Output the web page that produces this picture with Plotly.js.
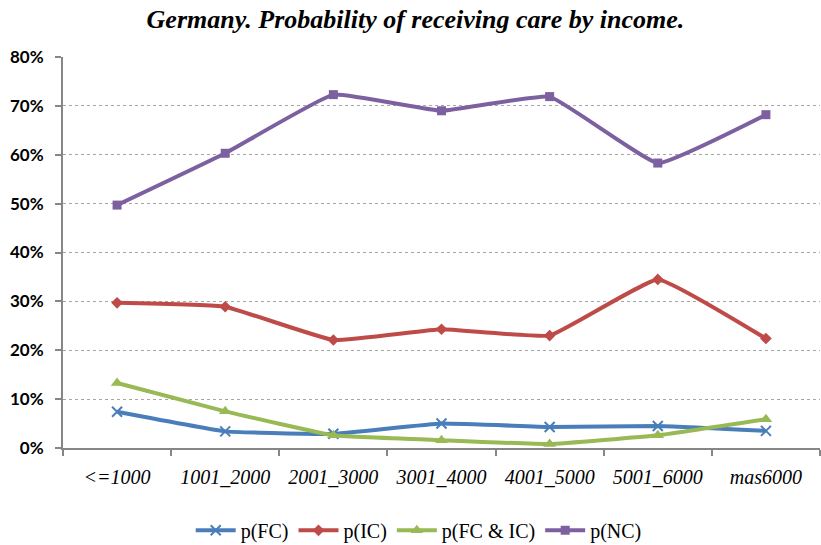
<!DOCTYPE html>
<html>
<head>
<meta charset="utf-8">
<script src="https://cdn.plot.ly/plotly-3.0.1.min.js"></script>
<style>html,body{margin:0;padding:0;background:#fff;}#chart{width:821px;height:545px;}</style>
</head>
<body>
<div id="chart"></div>
<script>
const categories = ["<=1000", "1001_2000", "2001_3000", "3001_4000", "4001_5000", "5001_6000", "mas6000"];
const pFC   = [0.074, 0.034, 0.029, 0.050, 0.043, 0.045, 0.035];
const pIC   = [0.297, 0.289, 0.221, 0.243, 0.230, 0.345, 0.224];
const pFCIC = [0.133, 0.075, 0.026, 0.016, 0.008, 0.026, 0.059];
const pNC   = [0.497, 0.603, 0.723, 0.690, 0.719, 0.583, 0.682];
const yTickVals = [0, 0.1, 0.2, 0.3, 0.4, 0.5, 0.6, 0.7, 0.8];
const yTickText = ["0%", "10%", "20%", "30%", "40%", "50%", "60%", "70%", "80%"];

const seriesNames = ["p(FC)", "p(IC)", "p(FC & IC)", "p(NC)"];
const seriesData = [pFC, pIC, pFCIC, pNC];
const colors = ["#4a7ebb", "#be4b48", "#98b954", "#7d60a0"];
const symbols = ["x-thin-open", "diamond", "triangle-up", "square"];
const sizes = [10, 9, 11, 9];

const traces = seriesData.map((d, i) => ({
  type: "scatter",
  mode: "lines+markers",
  x: categories,
  y: d,
  name: seriesNames[i],
  line: {color: colors[i], width: 4, shape: "spline", smoothing: 0.3},
  marker: {color: colors[i], symbol: symbols[i], size: sizes[i],
           line: {color: colors[i], width: i === 0 ? 2 : 0}},
  cliponaxis: false
}));

const serif = "'Liberation Serif', 'DejaVu Serif', serif";
const layout = {
  width: 821, height: 545,
  margin: {l: 63, r: 1, t: 57, b: 97},
  paper_bgcolor: "#ffffff",
  plot_bgcolor: "#ffffff",
  title: {
    text: "<b><i>Germany. Probability of receiving care by income.</i></b>",
    font: {family: serif, size: 26, color: "#000"},
    x: 0.506, xanchor: "center", xref: "container",
    y: 0.966, yanchor: "middle", yref: "container"
  },
  xaxis: {
    type: "category",
    tickson: "boundaries",
    ticks: "outside", ticklen: 6, tickwidth: 2, tickcolor: "#868686",
    showline: true, linecolor: "#868686", linewidth: 2,
    showgrid: false, zeroline: false,
    tickfont: {family: serif, size: 20, color: "#000", style: "italic"},
    ticklabelstandoff: 10,
    range: [-0.5, 6.5]
  },
  yaxis: {
    range: [0, 0.8],
    tickvals: yTickVals, ticktext: yTickText,
    ticks: "outside", ticklen: 6, tickwidth: 2, tickcolor: "#868686",
    showline: true, linecolor: "#868686", linewidth: 2,
    showgrid: true, gridcolor: "#a6a6a6", gridwidth: 1, griddash: "dot",
    zeroline: false,
    tickfont: {family: "Lato, 'Liberation Sans', sans-serif", size: 17, color: "#000", weight: "bold"},
    ticklabelstandoff: 8
  },
  legend: {
    orientation: "h",
    xref: "container", yref: "container",
    x: 0.51, xanchor: "center",
    y: 0.027, yanchor: "middle",
    font: {family: serif, size: 20, color: "#000"},
    itemwidth: 40, tracegroupgap: 0
  },
  showlegend: true
};

Plotly.newPlot("chart", traces, layout, {displayModeBar: false, staticPlot: true});
</script>
</body>
</html>
